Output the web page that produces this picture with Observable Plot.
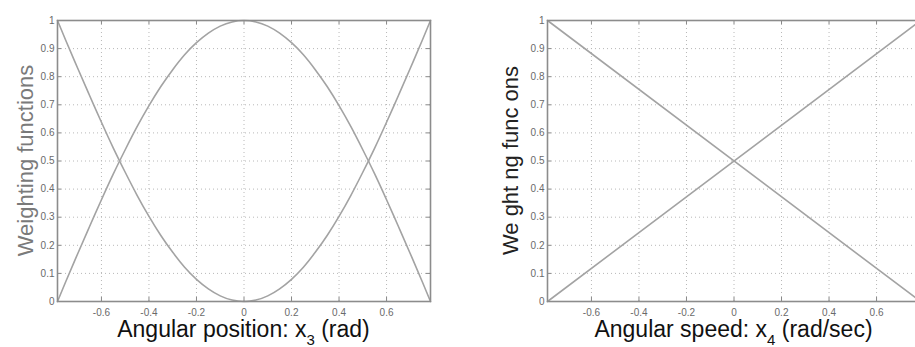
<!DOCTYPE html>
<html>
<head>
<meta charset="utf-8">
<script src="https://cdn.jsdelivr.net/npm/d3@7"></script>
<script src="https://cdn.jsdelivr.net/npm/@observablehq/plot@0.6"></script>
<style>
  html, body { margin: 0; padding: 0; background: #fff; overflow: hidden; }
  #wrap { position: relative; width: 920px; height: 347px; }
  #left { position: absolute; left: 0; top: 0; }
  #right { position: absolute; left: 460px; top: 0; }
</style>
</head>
<body>
<div id="wrap"><div id="left"></div><div id="right"></div></div>
<script>
// ---- data ----
const posX = [-0.785,-0.75,-0.7,-0.65,-0.6,-0.55,-0.5,-0.45,-0.4,-0.35,-0.3,-0.25,-0.2,-0.15,-0.1,-0.05,0,
              0.05,0.1,0.15,0.2,0.25,0.3,0.35,0.4,0.45,0.5,0.55,0.6,0.65,0.7,0.75,0.785];
const posBump = [0,0.071,0.170,0.267,0.362,0.454,0.540,0.622,0.697,0.765,0.825,0.878,0.921,0.955,0.980,0.995,1,
                 0.995,0.980,0.955,0.921,0.878,0.825,0.765,0.697,0.622,0.540,0.454,0.362,0.267,0.170,0.071,0];
const posValley = [1,0.929,0.830,0.733,0.638,0.546,0.460,0.378,0.303,0.235,0.175,0.122,0.079,0.045,0.020,0.005,0,
                   0.005,0.020,0.045,0.079,0.122,0.175,0.235,0.303,0.378,0.460,0.546,0.638,0.733,0.830,0.929,1];
const spdX = [-0.785, 0.785];
const spdUp = [0, 1];
const spdDown = [1, 0];
const xTicks = [-0.6, -0.4, -0.2, 0, 0.2, 0.4, 0.6];
const yTicks = [0, 0.1, 0.2, 0.3, 0.4, 0.5, 0.6, 0.7, 0.8, 0.9, 1];
const xDomain = [-0.785, 0.785];
const panels = [
  {id: "left", x: posX, series: [posBump, posValley], mL: 57, mR: 30,
   ylab: "Weighting functions", ylabColor: "#7a7a7a", ylabX: 25,
   xlab: ["Angular position: x", "3", " (rad)"]},
  {id: "right", x: spdX, series: [spdUp, spdDown], mL: 87, mR: 0,
   ylab: "We ght ng func ons", ylabColor: "#222", ylabX: 50,
   xlab: ["Angular speed: x", "4", " (rad/sec)"]}
];

const H = 347, mT = 20, mB = 46, W = 460;
const frameH = H - mT - mB;
const fmt = d => String(d);

for (const p of panels) {
  const frameW = W - p.mL - p.mR;
  const lineData = p.series.map((s, k) => p.x.map((x, i) => ({x, y: s[i], k}))).flat();
  const chart = Plot.plot({
    width: W, height: H,
    marginLeft: p.mL, marginRight: p.mR, marginTop: mT, marginBottom: mB,
    style: {fontFamily: "'Liberation Sans', Arial, sans-serif", background: "transparent", overflow: "visible"},
    x: {domain: xDomain, axis: null},
    y: {domain: [0, 1], axis: null},
    marks: [
      Plot.gridX(xTicks, {stroke: "#b8b8b8", strokeOpacity: 1, strokeDasharray: "1,3", strokeWidth: 1}),
      Plot.gridY(yTicks.slice(1, -1), {stroke: "#b8b8b8", strokeOpacity: 1, strokeDasharray: "1,3", strokeWidth: 1}),
      Plot.tickX(xTicks, {x: d => d, insetTop: frameH - 4, stroke: "#888"}),
      Plot.tickX(xTicks, {x: d => d, insetBottom: frameH - 4, stroke: "#888"}),
      Plot.tickY(yTicks, {y: d => d, insetRight: frameW - 4, stroke: "#888"}),
      Plot.tickY(yTicks, {y: d => d, insetLeft: frameW - 4, stroke: "#888"}),
      Plot.axisX(xTicks, {tickSize: 0, tickPadding: 7, tickFormat: fmt, fontSize: 10, fill: "#6a6a6a", label: null}),
      Plot.axisY(yTicks, {tickSize: 0, tickPadding: 3, tickFormat: fmt, fontSize: 10, fill: "#6a6a6a", label: null}),
      Plot.line(lineData, {x: "x", y: "y", z: "k", curve: "natural", stroke: "#a3a3a3", strokeWidth: 1.6}),
      Plot.frame({stroke: "#8c8c8c", strokeWidth: 1.6})
    ]
  });
  const svg = d3.select(chart);
  // y label
  svg.append("text")
    .attr("transform", `translate(${p.ylabX},${mT + frameH / 2}) rotate(-90)`)
    .attr("text-anchor", "middle")
    .attr("dominant-baseline", "central")
    .attr("font-size", 22)
    .attr("fill", p.ylabColor)
    .text(p.ylab);
  // x label with subscript
  const t = svg.append("text")
    .attr("x", p.mL + frameW / 2)
    .attr("y", 337)
    .attr("text-anchor", "middle")
    .attr("font-size", 23)
    .attr("fill", "#111");
  t.append("tspan").text(p.xlab[0]);
  t.append("tspan").attr("font-size", 15).attr("dy", 8).text(p.xlab[1]);
  t.append("tspan").attr("dy", -8).text(p.xlab[2]);
  document.getElementById(p.id).appendChild(chart);
}
</script>
</body>
</html>
